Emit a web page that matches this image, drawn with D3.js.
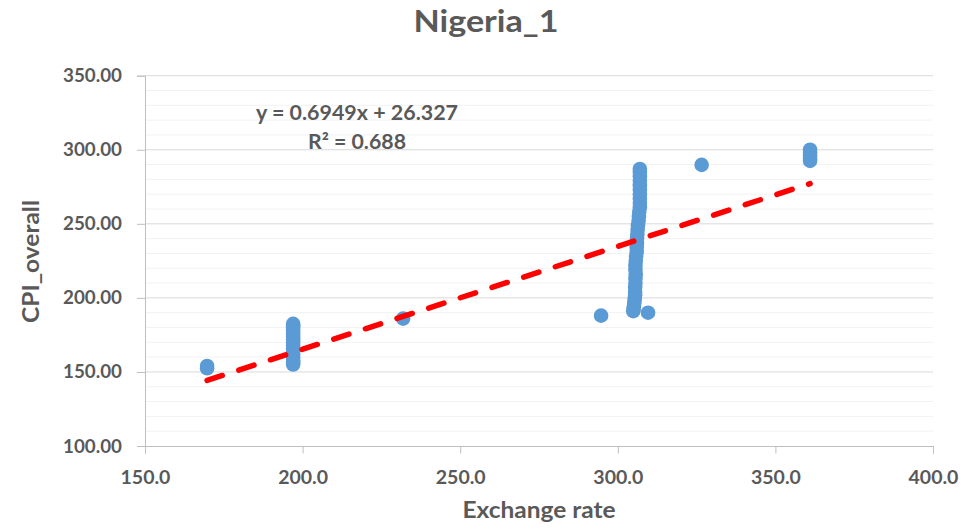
<!DOCTYPE html>
<html>
<head>
<meta charset="utf-8">
<script src="https://cdn.jsdelivr.net/npm/d3@7"></script>
<style>
  html, body { margin: 0; padding: 0; background: #fff; }
  svg { display: block; }
  text { font-family: Lato, "Open Sans", sans-serif; font-weight: bold; fill: #595959; }
</style>
</head>
<body>
<svg id="chart" width="979" height="529"></svg>
<script>
// ---- data ----
const chartTitle = "Nigeria_1";
const xTitle = "Exchange rate";
const yTitle = "CPI_overall";
const xTicks = [150, 200, 250, 300, 350, 400];
const yTicks = [100, 150, 200, 250, 300, 350];
const trendSlope = 0.6949;
const trendIntercept = 26.327;
const trendLabel1 = "y = 0.6949x + 26.327";
const trendLabel2 = "R² = 0.688";

const exchangeRate = [
  169.7, 169.7,
  197, 197, 197, 197, 197, 197, 197, 197, 197, 197, 197, 197, 197, 197, 197, 197,
  231.9, 294.7, 309.6,
  304.9, 305.0, 305.1, 305.2, 305.3, 305.4,
  305.5, 305.5, 305.5, 305.6, 305.6, 305.7, 305.6, 305.6, 305.7, 305.8,
  306.0, 306.0, 306.1, 306.1, 306.2, 306.3, 306.4,
  306.6, 306.7, 306.8,
  307.0, 307.0, 307.0, 307.0, 307.0, 307.0, 307.0, 307.0, 307.0, 307.0,
  326.6,
  361, 361, 361, 361, 361
];
const cpiOverall = [
  152.5, 154,
  155, 156.5, 158, 160, 162, 164, 166, 168, 170, 172, 174, 176, 178, 180, 181.5, 182.5,
  186, 188, 190,
  191, 192.5, 194, 196, 198, 200,
  202, 204, 207, 210, 213, 216, 219, 222, 225, 228,
  231, 234, 237, 240, 243, 246, 249,
  252, 255, 258,
  261, 264, 267, 270, 273, 276, 279, 282, 285, 287,
  289.8,
  292.5, 294, 296, 298, 300
];

// ---- layout ----
const svg = d3.select("#chart");
const pLeft = 145, pRight = 933, pTop = 75.7, pBottom = 446;

const x = d3.scaleLinear().domain([150, 400]).range([pLeft, pRight]);
const y = d3.scaleLinear().domain([100, 350]).range([pBottom, pTop]);

function stretch(sel, target) {
  sel.each(function () {
    const w = this.getComputedTextLength();
    const t = typeof target === "function" ? target(w) : target;
    d3.select(this).attr("textLength", t).attr("lengthAdjust", "spacingAndGlyphs");
  });
}

// minor gridlines
const minor = d3.range(110, 350, 10).filter(v => v % 50 !== 0);
svg.append("g").selectAll("line").data(minor).join("line")
  .attr("x1", pLeft).attr("x2", pRight)
  .attr("y1", d => y(d)).attr("y2", d => y(d))
  .attr("stroke", "#f2f2f2").attr("stroke-width", 1);

// major gridlines
svg.append("g").selectAll("line").data(yTicks.filter(v => v > 100)).join("line")
  .attr("x1", pLeft).attr("x2", pRight)
  .attr("y1", d => y(d)).attr("y2", d => y(d))
  .attr("stroke", "#d9d9d9").attr("stroke-width", 1);

// axes
const yAxis = d3.axisLeft(y).tickValues(yTicks).tickSize(8).tickPadding(15)
  .tickFormat(d => d.toFixed(2));
const gy = svg.append("g").attr("transform", `translate(${pLeft},0)`).call(yAxis);
gy.select(".domain").attr("stroke", "#bfbfbf");
gy.selectAll(".tick line").attr("stroke", "#bfbfbf");
gy.selectAll(".tick text").style("font-size", "18.8px").attr("fill", "#595959");

const xAxis = d3.axisBottom(x).tickValues(xTicks).tickSize(7.5).tickPadding(17)
  .tickFormat(d => d.toFixed(1));
const gx = svg.append("g").attr("transform", `translate(0,${pBottom})`).call(xAxis);
gx.select(".domain").attr("stroke", "#bfbfbf");
gx.selectAll(".tick line").attr("stroke", "#bfbfbf");
gx.selectAll(".tick text").style("font-size", "19.5px").attr("fill", "#595959");

// points
const pts = exchangeRate.map((v, i) => [v, cpiOverall[i]]);
svg.append("g").selectAll("circle").data(pts).join("circle")
  .attr("cx", d => x(d[0])).attr("cy", d => y(d[1]))
  .attr("r", 7.3).attr("fill", "#5b9bd5");

// trendline
const xMin = d3.min(exchangeRate), xMax = d3.max(exchangeRate);
svg.append("line")
  .attr("x1", x(xMin)).attr("y1", y(trendSlope * xMin + trendIntercept))
  .attr("x2", x(xMax)).attr("y2", y(trendSlope * xMax + trendIntercept))
  .attr("stroke", "#ff0000").attr("stroke-width", 5.5)
  .attr("stroke-linecap", "round").attr("stroke-dasharray", "16,17.3");

// trendline label
svg.append("text").attr("x", 357).attr("y", 119.5).attr("text-anchor", "middle")
  .style("font-size", "20px").text(trendLabel1).call(stretch, 202);
svg.append("text").attr("x", 357).attr("y", 148.5).attr("text-anchor", "middle")
  .style("font-size", "20px").text(trendLabel2).call(stretch, 98);

// titles
svg.append("text").attr("x", 486).attr("y", 32).attr("text-anchor", "middle")
  .style("font-size", "30.5px").text(chartTitle).call(stretch, 145);
svg.append("text").attr("x", 539).attr("y", 518).attr("text-anchor", "middle")
  .style("font-size", "23px").text(xTitle).call(stretch, 153);
svg.append("text").attr("transform", "translate(39,261.5) rotate(-90)").attr("text-anchor", "middle")
  .style("font-size", "22px").text(yTitle).call(stretch, 123);
</script>
</body>
</html>
